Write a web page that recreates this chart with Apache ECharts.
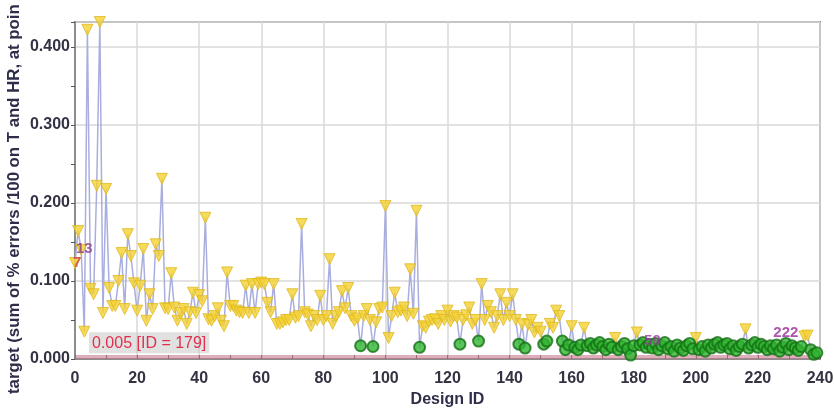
<!DOCTYPE html>
<html><head><meta charset="utf-8">
<script src="https://cdn.jsdelivr.net/npm/echarts@6/dist/echarts.min.js"></script>
<style>html,body{margin:0;padding:0;background:#fff}#c{width:834px;height:412px}</style>
</head><body><div id="c"></div>
<script>
// target value per design ID (index = design ID)
const targetValues = [
 0.123,0.164,0.140,0.035,0.422,0.090,0.083,0.222,0.432,0.059,
 0.218,0.091,0.068,0.068,0.100,0.136,0.064,0.160,0.132,0.097,
 0.062,0.094,0.141,0.049,0.083,0.064,0.147,0.132,0.231,0.065,
 0.064,0.110,0.066,0.049,0.059,0.064,0.045,0.060,0.085,0.059,
 0.082,0.074,0.181,0.051,0.049,0.055,0.065,0.049,0.042,0.111,
 0.068,0.068,0.062,0.060,0.059,0.094,0.059,0.096,0.059,0.096,
 0.098,0.096,0.072,0.060,0.096,0.045,0.045,0.047,0.050,0.050,
 0.083,0.053,0.055,0.173,0.060,0.057,0.042,0.055,0.050,0.081,
 0.050,0.055,0.128,0.045,0.055,0.060,0.087,0.065,0.091,0.055,
 0.049,0.052,0.017,0.055,0.064,0.050,0.016,0.047,0.064,0.066,
 0.196,0.027,0.055,0.085,0.060,0.062,0.066,0.055,0.115,0.058,
 0.190,0.015,0.042,0.040,0.048,0.050,0.051,0.045,0.055,0.050,
 0.062,0.048,0.055,0.053,0.019,0.050,0.056,0.066,0.045,0.050,
 0.023,0.096,0.050,0.068,0.060,0.040,0.055,0.083,0.050,0.072,
 0.055,0.083,0.050,0.019,0.045,0.014,0.044,0.050,0.034,0.040,
 0.035,0.019,0.023,0.045,0.040,0.062,0.055,0.023,0.012,0.018,
 0.042,0.015,0.012,0.018,0.040,0.017,0.020,0.014,0.018,0.021,
 0.016,0.012,0.019,0.015,0.027,0.012,0.016,0.020,0.013,0.005,
 0.017,0.034,0.018,0.021,0.015,0.019,0.014,0.020,0.012,0.017,
 0.021,0.013,0.016,0.010,0.018,0.014,0.011,0.017,0.020,0.013,
 0.027,0.012,0.016,0.010,0.018,0.014,0.019,0.021,0.015,0.018,
 0.020,0.013,0.017,0.011,0.016,0.019,0.038,0.014,0.018,0.021,
 0.015,0.019,0.016,0.012,0.017,0.013,0.018,0.010,0.015,0.020,
 0.012,0.017,0.014,0.011,0.016,0.029,0.030,0.012,0.006,0.008
];
// design IDs drawn as green circles (feasible); all others are yellow triangles
const feasibleIds = [92,96,111,124,130,143,145,151,152,157,158,159,161,162,163,
 165,166,167,168,169,170,171,172,173,175,176,177,178,179,180,
 182,183,184,185,186,187,188,189,190,191,192,193,194,195,196,197,198,199,
 201,202,203,204,205,206,207,208,209,210,211,212,213,214,215,
 217,218,219,220,221,222,223,224,225,226,227,228,229,230,231,232,233,234,237,238,239];
// labelled designs
const annoX = [0.7, 3, 186, 229];
const annoY = [0.123, 0.141, 0.023, 0.033];
const annoText = ['7', '13', '59', '222'];
const annoColor = ['#cc3d55', '#8e3a8e', '#9a3aa0', '#9a2a9a'];
const xTicks = {min: 0, max: 240, step: 20};
const yTicks = {min: 0, max: 0.432, step: 0.1};

const feasSet = new Set(feasibleIds);
const lineData = targetValues.map((v, i) => [i, v]);
const yellowData = lineData.filter(d => !feasSet.has(d[0]));
const greenData = lineData.filter(d => feasSet.has(d[0]));
let minV = Infinity, minId = -1;
targetValues.forEach((v, i) => { if (v < minV) { minV = v; minId = i; } });

const FONT = 'Liberation Sans, Arial, sans-serif';
const chart = echarts.init(document.getElementById('c'), null, {renderer: 'canvas'});
chart.setOption({
  animation: false,
  backgroundColor: '#fff',
  grid: {left: 75, right: 14, top: 22, bottom: 53, outerBoundsMode: 'none', containLabel: false,
    show: true, borderColor: '#8c8c8c', borderWidth: 2, backgroundColor: 'transparent'},
  xAxis: {
    type: 'value', min: xTicks.min, max: xTicks.max, interval: xTicks.step,
    name: 'Design ID', nameLocation: 'middle', nameGap: 33,
    nameTextStyle: {fontFamily: FONT, fontWeight: 'bold', fontSize: 16, color: '#2e2e4a'},
    axisLine: {show: true, lineStyle: {color: '#8c8c8c', width: 2}},
    axisTick: {show: true, inside: true, length: 4, lineStyle: {color: '#555'}},
    minorTick: {show: true, splitNumber: 2, length: 4, lineStyle: {color: '#555'}},
    axisLabel: {fontFamily: FONT, fontWeight: 'bold', fontSize: 16, color: '#333344', margin: 12},
    splitLine: {show: true, lineStyle: {color: '#d8d8d8', width: 1.5}}
  },
  yAxis: {
    type: 'value', min: yTicks.min, max: yTicks.max, interval: yTicks.step,
    axisLine: {show: true, lineStyle: {color: '#8c8c8c', width: 2}},
    axisTick: {show: true, length: 4, lineStyle: {color: '#555'}},
    minorTick: {show: true, splitNumber: 2, length: 4, lineStyle: {color: '#555'}},
    axisLabel: {fontFamily: FONT, fontWeight: 'bold', fontSize: 16, color: '#333344', margin: 5,
      showMaxLabel: false, formatter: v => v.toFixed(3)},
    splitLine: {show: true, lineStyle: {color: '#d8d8d8', width: 1.5}}
  },
  graphic: [{
    type: 'text', x: 14, y: 394, rotation: Math.PI / 2,
    style: {text: 'target (sum of % errors /100 on T and HR, at poin', font: 'bold 16.8px ' + FONT,
      fill: '#2e2e4a', textVerticalAlign: 'middle', textAlign: 'left'}
  }],
  series: [
    {
      type: 'line', data: lineData, showSymbol: false, symbol: 'none', z: 2,
      lineStyle: {color: '#a9aede', width: 1.5},
      markArea: {silent: true, itemStyle: {color: 'rgba(200,120,140,0.6)'},
        data: [[{yAxis: 0}, {yAxis: minV}]]},
      markLine: {silent: true, symbol: 'none', lineStyle: {color: 'rgba(0,0,0,0)', width: 0.1, type: 'solid'},
        data: [{yAxis: minV}],
        label: {show: true, position: 'insideStartTop', distance: [14, -2],
          formatter: () => minV.toFixed(3) + ' [ID = ' + minId + ']',
          fontFamily: FONT, fontSize: 16, color: '#e0304e',
          backgroundColor: 'rgba(200,200,200,0.55)', padding: [3, 3, 2, 3]}}
    },
    {
      type: 'scatter', data: yellowData, symbol: 'triangle', symbolRotate: 180, symbolSize: 11, z: 3,
      itemStyle: {color: '#f4d232', borderColor: '#e0b820', borderWidth: 1}
    },
    {
      type: 'scatter', data: greenData, symbol: 'circle', symbolSize: 11, z: 4,
      itemStyle: {color: '#2fb52f', borderColor: '#167016', borderWidth: 2}
    },
    {
      type: 'scatter', symbolSize: 1, z: 5, silent: true,
      itemStyle: {color: 'rgba(0,0,0,0)'},
      data: annoX.map((x, i) => ({value: [x, annoY[i]],
        label: {show: true, position: 'inside', formatter: annoText[i], color: annoColor[i],
          fontFamily: FONT, fontWeight: 'bold', fontSize: 15}}))
    }
  ]
});
</script></body></html>
